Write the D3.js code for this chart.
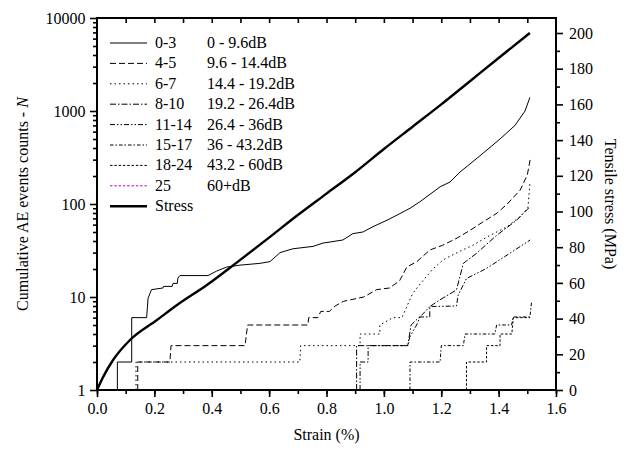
<!DOCTYPE html>
<html>
<head>
<meta charset="utf-8">
<script src="https://cdn.jsdelivr.net/npm/d3@7"></script>
<style>
  body { margin: 0; background: #fff; }
</style>
</head>
<body>
<div id="chart"></div>
<script>

// AE cumulative counts, [strain %, N]
const ae03 = [[0.071,1],[0.071,2],[0.121,2],[0.121,6],[0.173,6],[0.178,9.7],[0.19,12],[0.23,12.5],[0.232,13],[0.262,13],[0.265,14],[0.28,14],[0.282,16],[0.289,17],[0.387,17],[0.417,19],[0.452,21],[0.498,22],[0.568,23],[0.603,24],[0.638,30],[0.683,33],[0.753,35],[0.788,38],[0.857,41],[0.892,48],[0.927,50],[0.962,57],[1.011,67],[1.046,76],[1.091,90],[1.126,106],[1.196,153],[1.23,172],[1.265,220],[1.335,330],[1.405,500],[1.457,700],[1.492,1000],[1.509,1400]];
const ae45 = [[0.142,1],[0.142,2],[0.254,2],[0.258,3],[0.516,3],[0.525,5],[0.735,5],[0.738,6],[0.77,6],[0.78,7],[0.81,7],[0.83,8],[0.86,9],[0.93,10],[0.975,12],[1.02,12.5],[1.055,15],[1.08,21],[1.115,24],[1.16,32],[1.205,36],[1.255,43],[1.3,52],[1.345,64],[1.395,80],[1.43,100],[1.475,141],[1.5,205],[1.51,300]];
const ae67 = [[0.136,1],[0.136,2],[0.707,2],[0.71,3],[0.917,3],[0.917,4],[0.986,4],[0.986,5],[1.032,6],[1.063,6],[1.08,7.9],[1.101,11],[1.136,15],[1.171,20],[1.206,25],[1.255,30],[1.31,36],[1.37,46],[1.43,57],[1.474,73],[1.502,90],[1.509,165]];
const ae810 = [[0.905,1],[0.905,3],[1.083,3],[1.095,5],[1.124,6.1],[1.16,6.1],[1.16,7.9],[1.195,9.3],[1.253,11.9],[1.277,23],[1.323,29.5],[1.393,46],[1.463,67],[1.51,94]];
const ae1114 = [[0.917,1],[0.917,2],[0.945,2],[0.945,3],[1.085,3],[1.09,3.7],[1.114,5],[1.126,6.1],[1.16,7.9],[1.253,8],[1.259,10.5],[1.288,15.8],[1.358,20.3],[1.439,29.5],[1.51,41]];
const ae1517 = [[1.091,1],[1.091,2],[1.196,2],[1.2,3],[1.277,3],[1.283,4],[1.387,4],[1.393,5],[1.445,5],[1.451,6.1],[1.509,6.1],[1.515,8.9]];
const ae1824 = [[1.288,1],[1.288,2],[1.358,2],[1.358,3],[1.405,3],[1.405,4],[1.446,4],[1.451,6],[1.51,6]];
const ae25 = [];

// tensile stress, [strain %, MPa]
const stress = [[0,0],[0.022,7.5],[0.056,16.8],[0.115,28],[0.209,39.2],[0.279,47.6],[0.383,58.8],[0.488,71.5],[0.593,84.5],[0.7,98],[0.8,110],[0.9,122],[1.0,135],[1.1,147.5],[1.2,160],[1.3,173],[1.4,186],[1.509,200]];

const classes = ["0-3", "4-5", "6-7", "8-10", "11-14", "15-17", "18-24", "25"];
const ranges = ["0 - 9.6dB", "9.6 - 14.4dB", "14.4 - 19.2dB", "19.2 - 26.4dB", "26.4 - 36dB", "36 - 43.2dB", "43.2 - 60dB", "60+dB"];
const aeSeries = [ae03, ae45, ae67, ae810, ae1114, ae1517, ae1824, ae25];

const dashes = [null, "6,3", "1.5,3", "6,2,1.5,2", "5,2,1.5,2,1.5,2", "3.5,2,1.5,2", "2.5,1.8", "2.5,1.8"];
const strokes = ["#000", "#000", "#000", "#000", "#000", "#000", "#000", "#c000c0"];

const width = 626, height = 455;
const margin = { top: 18, right: 70, bottom: 65, left: 97 };
const font = "Liberation Serif";

const svg = d3.select("#chart").append("svg")
    .attr("width", width)
    .attr("height", height)
    .attr("font-family", font);

const x = d3.scaleLinear().domain([0, 1.6]).range([margin.left, width - margin.right]);
const y = d3.scaleLog().domain([1, 10000]).range([height - margin.bottom, margin.top]);
const y2 = d3.scaleLinear().domain([0, 200]).range([height - margin.bottom, 33]);

const fs = 16;

// axes
const gx = svg.append("g").attr("transform", `translate(0,${y.range()[0]})`);
gx.call(d3.axisBottom(x).tickValues(d3.range(0, 1.61, 0.1)).tickSize(4).tickFormat(""));
gx.append("g").call(d3.axisBottom(x).tickValues(d3.range(0, 1.61, 0.2)).tickSize(7).tickFormat(d3.format(".1f")));

const gt = svg.append("g").attr("transform", `translate(0,${margin.top})`);
gt.call(d3.axisBottom(x).tickValues(d3.range(0.1, 1.6, 0.1)).tickSize(5).tickFormat(""));

const minorLog = [];
[1, 10, 100, 1000].forEach(d => { for (let k = 2; k < 10; k++) minorLog.push(d * k); });
const gy = svg.append("g").attr("transform", `translate(${margin.left},0)`);
gy.call(d3.axisLeft(y).tickValues(minorLog).tickSize(4).tickFormat(""));
gy.append("g").call(d3.axisLeft(y).tickValues([1, 10, 100, 1000, 10000]).tickSize(7).tickFormat(d3.format("d")));

const gr = svg.append("g").attr("transform", `translate(${width - margin.right},0)`);
gr.call(d3.axisRight(y2).tickValues(d3.range(10, 201, 20)).tickSize(4).tickFormat(""));
gr.append("g").call(d3.axisRight(y2).tickValues(d3.range(0, 201, 20)).tickSize(7).tickPadding(6));

svg.selectAll("g").attr("font-family", font);
svg.selectAll(".domain").remove();
svg.selectAll(".tick line").attr("stroke", "#000").attr("stroke-width", 1.6);
svg.selectAll(".tick text").attr("font-size", fs).attr("fill", "#000");
gx.selectAll(".tick text").attr("dy", "0.9em");
gy.selectAll(".tick text").attr("dx", "-0.1em");

// frame
svg.append("rect")
    .attr("x", margin.left).attr("y", margin.top)
    .attr("width", x.range()[1] - margin.left)
    .attr("height", y.range()[0] - margin.top)
    .attr("fill", "none").attr("stroke", "#000").attr("stroke-width", 2);

// AE lines
const aeLine = d3.line().x(d => x(d[0])).y(d => y(d[1]));
aeSeries.forEach((s, i) => {
    if (!s.length) return;
    svg.append("path")
        .attr("d", aeLine(s))
        .attr("fill", "none")
        .attr("stroke", strokes[i])
        .attr("stroke-width", 1)
        .attr("stroke-dasharray", dashes[i]);
});

// stress
const stressLine = d3.line().x(d => x(d[0])).y(d => y2(d[1])).curve(d3.curveMonotoneX);
svg.append("path")
    .attr("d", stressLine(stress))
    .attr("fill", "none")
    .attr("stroke", "#000")
    .attr("stroke-width", 2.4);

// legend
const lg = svg.append("g").attr("font-size", fs);
const rowH = 20.4;
classes.concat(["Stress"]).forEach((c, i) => {
    const yy = 43 + i * rowH;
    lg.append("line")
        .attr("x1", 110).attr("x2", 147).attr("y1", yy).attr("y2", yy)
        .attr("stroke", i < 8 ? strokes[i] : "#000")
        .attr("stroke-width", i < 8 ? 1 : 2.4)
        .attr("stroke-dasharray", i < 8 ? dashes[i] : null);
    lg.append("text").attr("x", 155).attr("y", yy + 5).text(c);
    if (i < 8) lg.append("text").attr("x", 207).attr("y", yy + 5).text(ranges[i]);
});

// axis titles
svg.append("text")
    .attr("x", (x.range()[0] + x.range()[1]) / 2).attr("y", 440)
    .attr("text-anchor", "middle").attr("font-size", fs)
    .text("Strain (%)");

const yl = svg.append("text")
    .attr("transform", `translate(28,${(margin.top + y.range()[0]) / 2}) rotate(-90)`)
    .attr("text-anchor", "middle").attr("font-size", fs);
yl.append("tspan").text("Cumulative AE events counts - ");
yl.append("tspan").attr("font-style", "italic").text("N");

svg.append("text")
    .attr("transform", `translate(605,${(margin.top + y.range()[0]) / 2}) rotate(90)`)
    .attr("text-anchor", "middle").attr("font-size", fs)
    .text("Tensile stress (MPa)");

</script>
</body>
</html>
